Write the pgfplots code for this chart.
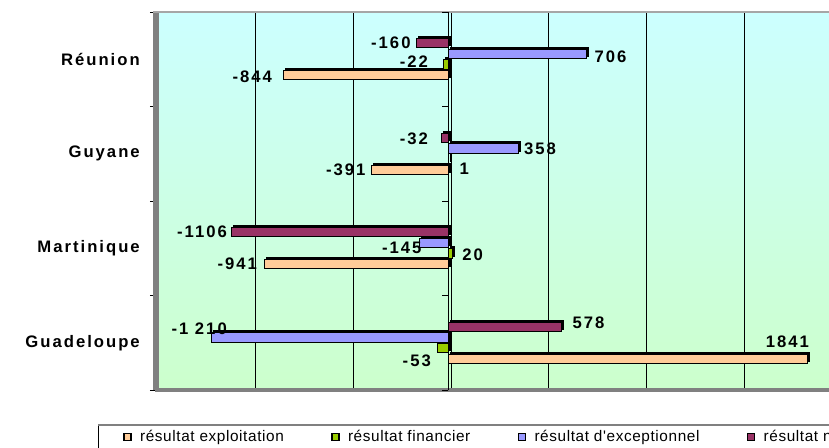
\documentclass[border=0pt]{standalone}
\usepackage{pgfplots}
\pgfplotsset{compat=1.18}
\usepackage{pgfplotstable}
\usepackage{fontspec}
\setmainfont{Liberation Sans}
\newfontfamily\lblfont[LetterSpace=12]{Liberation Sans}
\newfontfamily\legfont[LetterSpace=4,Ligatures=TeXOff]{Liberation Sans}
\definecolor{cExpl}{HTML}{FFCC99}
\definecolor{cFin}{HTML}{99CC00}
\definecolor{cExc}{HTML}{9999FF}
\definecolor{cNet}{HTML}{993366}
\definecolor{bgTop}{HTML}{CCFFFF}
\definecolor{bgBot}{HTML}{CCFFCC}
\definecolor{wall}{HTML}{808080}

% cat: 0 Guadeloupe, 1 Martinique, 2 Guyane, 3 Reunion ; dx,dy in px (dy down)
\pgfplotstableread[col sep=comma]{
cat,val,lbl,dx,dy
0,1841,1841,-20.5,-17
1,-941,-941,-27,0
2,-391,-391,-26,0
3,-844,-844,-31,1.5
}\tabExpl
\pgfplotstableread[col sep=comma]{
cat,val,lbl,dx,dy
0,-53,-53,-21,13
1,20,20,20.5,1.5
2,1,1,16,9.5
3,-22,-22,-30,-2.5
}\tabFin
\pgfplotstableread[col sep=comma]{
cat,val,lbl,dx,dy
0,-1210,-1 210,-12.5,-8.5
1,-145,-145,-18,5
2,358,358,22,0
3,706,706,24.5,3
}\tabExc
\pgfplotstableread[col sep=comma]{
cat,val,lbl,dx,dy
0,578,578,27.5,-4
1,-1106,-1106,-30,0
2,-32,-32,-28,1
3,-160,-160,-26,0
}\tabNet

\begin{document}
\begin{tikzpicture}
\useasboundingbox (0pt,0pt) rectangle (621.75pt,335.25pt);
\clip (0pt,0pt) rectangle (621.75pt,335.25pt);
\begin{axis}[
  at={(116.25pt,42.75pt)}, anchor=south west,
  scale only axis, width=513pt, height=283.5pt,
  xmin=-1500, xmax=2000, ymin=-0.5, ymax=3.5,
  clip=false,
  xbar, bar width=7pt,
  axis background/.style={top color=bgTop, bottom color=bgBot},
  axis line style={draw=none},
  xtick={-1000,-500,0,500,1000,1500,2000}, xticklabels={},
  xmajorgrids, major grid style={black, line width=0.6pt, xshift=2.25pt},
  ytick={0,1,2,3},
  yticklabels={Guadeloupe,Martinique,Guyane,Réunion},
  minor ytick={-0.5,0.5,1.5,2.5,3.5},
  major tick length=0pt, minor tick length=3.75pt,
  ytick pos=left, xtick pos=bottom, tick align=outside,
  every tick/.style={black, line width=0.75pt},
  yticklabel style={font=\lblfont\bfseries\fontsize{12.5}{14}\selectfont, anchor=east, inner sep=0pt, xshift=-11.25pt},
  legend columns=4,
  legend style={at={(-0.0468,-0.1243)}, anchor=west, draw=none, fill=none, inner sep=0pt,
     font=\legfont\fontsize{11.5}{13}\selectfont,
     /tikz/every even column/.append style={column sep=33.5pt}},
  legend image code/.code={\draw[#1, draw=black, line width=1pt] (0pt,-2.6pt) rectangle (5.25pt,2.6pt); \path (9.75pt,0pt);},
  lbl/.style={
    point meta=explicit symbolic,
    nodes near coords,
    visualization depends on={\thisrow{dx} \as \dx},
    visualization depends on={\thisrow{dy} \as \dy},
    every node near coord/.append style={anchor=center, inner sep=0pt, text=black,
       font=\lblfont\bfseries\fontsize{12.5}{14}\selectfont,
       xshift={(\dx)*0.75pt}, yshift={-1*(\dy)*0.75pt}}},
  shd/.style={fill=black, draw=black, line width=0.75pt, xshift=1.5pt, forget plot},
  bar/.style={draw=black, line width=0.75pt},
]
% walls
\fill[wall] ([xshift=-1.5pt]rel axis cs:0,0) rectangle ([xshift=3pt]rel axis cs:0,1);
\fill[wall] ([yshift=-1.5pt]rel axis cs:0,0) rectangle ([yshift=1.5pt]rel axis cs:1,0);
\draw[gray!70, line width=1.5pt] ([xshift=-1.5pt]rel axis cs:0,1) -- (rel axis cs:1,1);
% zero axis with ticks
\draw[black, line width=0.75pt] (axis cs:0,-0.5) -- (axis cs:0,3.5);
\pgfplotsinvokeforeach{-0.5,0.5,1.5,2.5,3.5}{\draw[black, line width=0.75pt] (axis cs:0,#1) -- ++(-4.5pt,0pt);}
\addplot[shd, bar shift=-10.5pt] table[x=val, y=cat] {\tabExpl};
\addplot[bar, fill=cExpl, bar shift=-12pt, lbl] table[x=val, y=cat, meta=lbl] {\tabExpl};
\addplot[shd, bar shift=-2.5pt] table[x=val, y=cat] {\tabFin};
\addplot[bar, fill=cFin, bar shift=-4pt, lbl] table[x=val, y=cat, meta=lbl] {\tabFin};
\addplot[shd, bar shift=5.5pt] table[x=val, y=cat] {\tabExc};
\addplot[bar, fill=cExc, bar shift=4pt, lbl] table[x=val, y=cat, meta=lbl] {\tabExc};
\addplot[shd, bar shift=13.5pt] table[x=val, y=cat] {\tabNet};
\addplot[bar, fill=cNet, bar shift=12pt, lbl] table[x=val, y=cat, meta=lbl] {\tabNet};
\legend{résultat exploitation, résultat financier, résultat d'exceptionnel, résultat net}
\end{axis}
\draw[black, line width=0.75pt] (73.5pt,16.5pt) -- (73.5pt,-5pt);
\draw[gray, line width=1.5pt] (73.5pt,16.5pt) -- (700pt,16.5pt);
\end{tikzpicture}
\end{document}
